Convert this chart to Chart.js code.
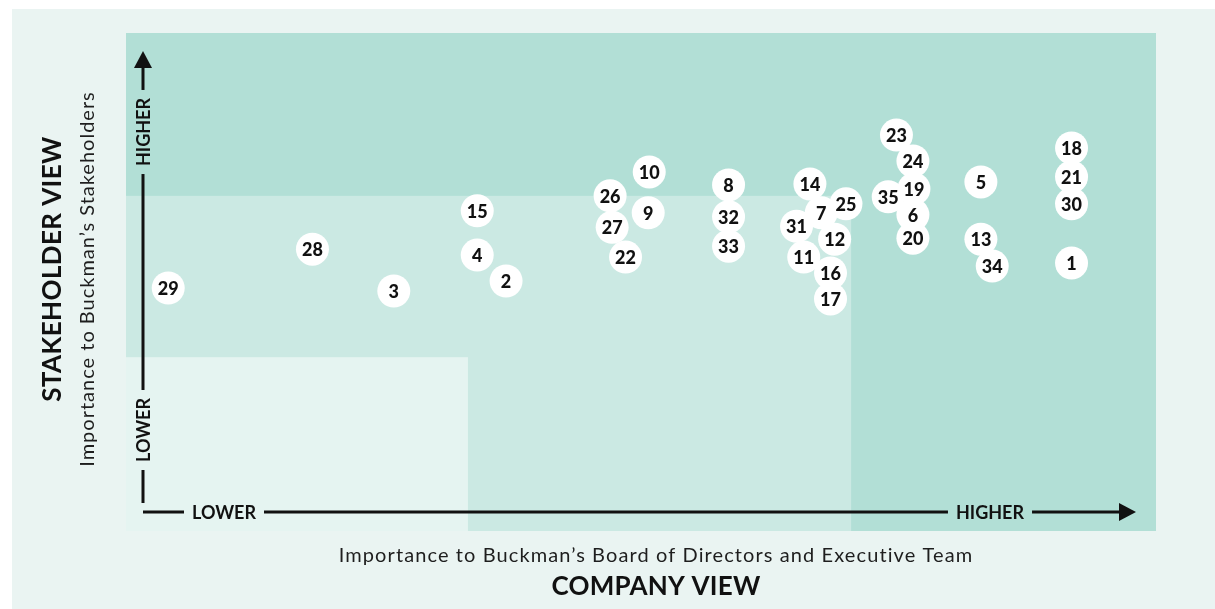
<!DOCTYPE html>
<html>
<head>
<meta charset="utf-8">
<script src="https://cdn.jsdelivr.net/npm/chart.js@4"></script>
<style>
  html, body { margin: 0; padding: 0; background: #ffffff; }
  #wrap { position: absolute; left: 0; top: 0; width: 1215px; height: 609px; }
</style>
</head>
<body>
<div id="wrap"><canvas id="matrix"></canvas></div>
<script>
'use strict';

// issue numbers, company view (x) and stakeholder view (y), 0-100
const issueIds = [29, 28, 3, 15, 4, 2, 26, 10, 9, 27, 22, 8, 32, 33, 14, 31, 7, 25, 12, 11, 16, 17,
                  23, 24, 35, 19, 6, 20, 5, 13, 34, 18, 21, 30, 1];
const companyView = [4.1, 18.1, 26.0, 34.1, 34.1, 36.9, 47.0, 50.8, 50.7, 47.2, 48.5, 58.5, 58.5, 58.5,
                     66.4, 65.1, 67.5, 69.9, 68.8, 65.8, 68.4, 68.4,
                     74.8, 76.4, 74.0, 76.5, 76.4, 76.4, 83.0, 83.0, 84.1, 91.8, 91.8, 91.8, 91.8];
const stakeholderView = [48.8, 56.6, 48.2, 64.3, 55.4, 50.2, 67.3, 72.1, 63.9, 61.0, 55.0, 69.5, 63.1, 57.2,
                         69.7, 61.2, 63.9, 65.7, 58.6, 55.0, 51.8, 46.6,
                         79.5, 74.3, 67.1, 68.7, 63.5, 58.8, 70.1, 58.6, 53.2, 76.9, 71.1, 65.7, 53.8];

// zone boundaries (data units)
const lowSplitX = 33.2, highSplitX = 70.4;
const lowSplitY = 34.9, highSplitY = 67.3;

const axisWords = { low: 'LOWER', high: 'HIGHER' };
const yTitle = 'STAKEHOLDER VIEW';
const ySubtitle = 'Importance to Buckman\u2019s Stakeholders';
const xTitle = 'COMPANY VIEW';
const xSubtitle = 'Importance to Buckman\u2019s Board of Directors and Executive Team';

const colors = {
    panel: '#eaf4f2',
    zoneHigh: '#b2dfd6',
    zoneMid: '#cbe9e3',
    zoneLow: '#e5f4f1',
    ink: '#111111',
    subInk: '#1e1e1e'
};
const fontFamily = 'Lato, "Open Sans", sans-serif';

const points = issueIds.map((id, i) => ({ x: companyView[i], y: stakeholderView[i], id: id }));

// background panel + zones
const zonesPlugin = {
    id: 'zones',
    beforeDraw(chart) {
        const { ctx, chartArea, scales } = chart;
        ctx.save();
        ctx.fillStyle = '#ffffff';
        ctx.fillRect(0, 0, chart.width, chart.height);
        ctx.fillStyle = colors.panel;
        ctx.fillRect(12, 9, chart.width - 12, chart.height - 9);

        const x0 = scales.x.getPixelForValue(0);
        const y0 = scales.y.getPixelForValue(0);
        ctx.fillStyle = colors.zoneHigh;
        ctx.fillRect(chartArea.left, chartArea.top, chartArea.width, chartArea.height);

        const xm = scales.x.getPixelForValue(highSplitX);
        const ym = scales.y.getPixelForValue(highSplitY);
        ctx.fillStyle = colors.zoneMid;
        ctx.fillRect(x0, ym, xm - x0, y0 - ym);

        const xl = scales.x.getPixelForValue(lowSplitX);
        const yl = scales.y.getPixelForValue(lowSplitY);
        ctx.fillStyle = colors.zoneLow;
        ctx.fillRect(x0, yl, xl - x0, y0 - yl);
        ctx.restore();
    }
};

// axis arrows, words and titles
const arrowsPlugin = {
    id: 'arrows',
    afterDatasetsDraw(chart) {
        const { ctx, chartArea } = chart;
        const { left, top, right, bottom } = chartArea;
        const lx = left + 17;
        const ly = bottom - 19;
        const gap = 8;

        ctx.save();
        ctx.strokeStyle = ctx.fillStyle = colors.ink;
        ctx.lineWidth = 3;
        ctx.font = 'bold 18px ' + fontFamily;
        ctx.textAlign = 'center';
        ctx.textBaseline = 'middle';

        // vertical axis
        const vHighY = top + 99, vLowY = bottom - 101;
        const hw = ctx.measureText(axisWords.high).width / 2 + gap;
        const lw = ctx.measureText(axisWords.low).width / 2 + gap;
        const vSegs = [[top + 34, vHighY - hw], [vHighY + hw, vLowY - lw], [vLowY + lw, bottom - 28]];
        vSegs.forEach(s => {
            ctx.beginPath(); ctx.moveTo(lx, s[0]); ctx.lineTo(lx, s[1]); ctx.stroke();
        });
        ctx.beginPath();
        ctx.moveTo(lx, top + 18); ctx.lineTo(lx + 9, top + 35); ctx.lineTo(lx - 9, top + 35);
        ctx.closePath(); ctx.fill();

        ctx.save();
        ctx.translate(lx + 1, vHighY); ctx.rotate(-Math.PI / 2);
        ctx.fillText(axisWords.high, 0, 0);
        ctx.restore();
        ctx.save();
        ctx.translate(lx + 1, vLowY); ctx.rotate(-Math.PI / 2);
        ctx.fillText(axisWords.low, 0, 0);
        ctx.restore();

        // horizontal axis
        const hLowX = left + 98, hHighX = right - 166;
        const hSegs = [[lx, hLowX - lw], [hLowX + lw, hHighX - hw], [hHighX + hw, right - 35]];
        hSegs.forEach(s => {
            ctx.beginPath(); ctx.moveTo(s[0], ly); ctx.lineTo(s[1], ly); ctx.stroke();
        });
        ctx.beginPath();
        ctx.moveTo(right - 20, ly); ctx.lineTo(right - 37, ly - 9); ctx.lineTo(right - 37, ly + 9);
        ctx.closePath(); ctx.fill();
        ctx.fillText(axisWords.low, hLowX, ly + 1);
        ctx.fillText(axisWords.high, hHighX, ly + 1);

        // titles
        ctx.save();
        ctx.translate(53, 269); ctx.rotate(-Math.PI / 2);
        ctx.font = 'bold 26px ' + fontFamily;
        ctx.letterSpacing = '0.4px';
        ctx.fillText(yTitle, 0, 0);
        ctx.restore();
        ctx.save();
        ctx.translate(88, 279); ctx.rotate(-Math.PI / 2);
        ctx.font = '400 20px ' + fontFamily;
        ctx.letterSpacing = '1px';
        ctx.fillStyle = colors.subInk;
        ctx.fillText(ySubtitle, 0, 0);
        ctx.restore();

        ctx.save();
        ctx.font = '400 20px ' + fontFamily;
        ctx.letterSpacing = '1.1px';
        ctx.fillStyle = colors.subInk;
        ctx.fillText(xSubtitle, 656, 556);
        ctx.restore();
        ctx.font = 'bold 26px ' + fontFamily;
        ctx.letterSpacing = '0.2px';
        ctx.fillStyle = colors.ink;
        ctx.fillText(xTitle, 656, 587);
        ctx.restore();
    }
};

// issue numbers inside the circles
const numbersPlugin = {
    id: 'numbers',
    afterDatasetsDraw(chart) {
        const { ctx } = chart;
        const meta = chart.getDatasetMeta(0);
        ctx.save();
        ctx.font = '900 18px ' + fontFamily;
        ctx.fillStyle = colors.ink;
        ctx.textAlign = 'center';
        ctx.textBaseline = 'middle';
        meta.data.forEach((pt, i) => {
            ctx.fillText(String(points[i].id), pt.x, pt.y + 1);
        });
        ctx.restore();
    }
};

new Chart(document.getElementById('matrix'), {
    type: 'scatter',
    data: {
        datasets: [{
            data: points,
            pointRadius: 16.5,
            pointHoverRadius: 16.5,
            pointBackgroundColor: '#ffffff',
            pointBorderWidth: 0,
            pointBorderColor: '#ffffff'
        }]
    },
    options: {
        responsive: true,
        maintainAspectRatio: false,
        animation: false,
        events: [],
        layout: { padding: { left: 126, top: 33, right: 59, bottom: 78 } },
        plugins: { legend: { display: false }, tooltip: { enabled: false } },
        scales: {
            x: { type: 'linear', min: 0, max: 100, display: false },
            y: { type: 'linear', min: 0, max: 100, display: false }
        }
    },
    plugins: [zonesPlugin, arrowsPlugin, numbersPlugin]
});
</script>
</body>
</html>
